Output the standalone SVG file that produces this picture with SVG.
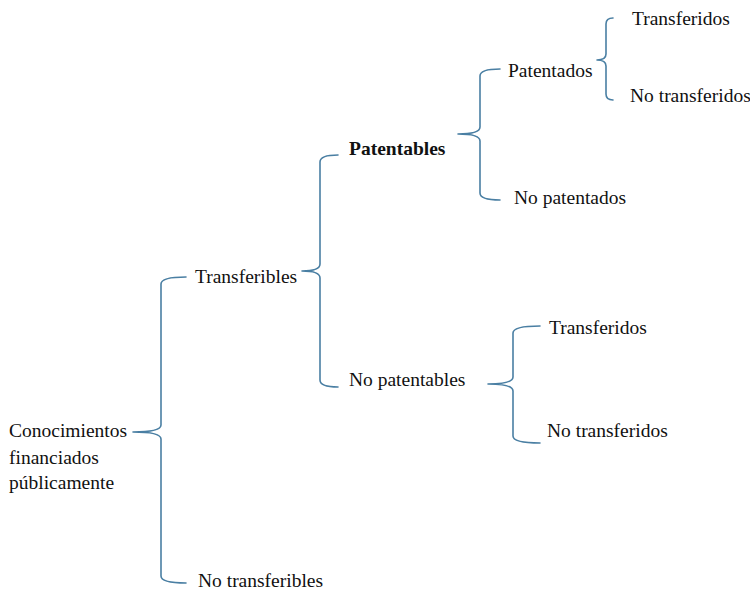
<svg xmlns="http://www.w3.org/2000/svg" width="750" height="592" viewBox="0 0 750 592">
<style>
.t{font-family:"Liberation Serif","Times New Roman",serif;font-size:19.5px;fill:#111}
.b{font-weight:bold}
.br{fill:none;stroke:#4a7fa3;stroke-width:1.6;stroke-linecap:round;stroke-linejoin:round}
</style>
<rect width="750" height="592" fill="#fff"/>
<g id="connectors">
<path class="br" d="M186,277 Q161,277 161,284 L161,425 Q161,432 133,432 Q161,432 161,439 L161,576 Q161,583 186,583"/>
<path class="br" d="M338,155 Q320,155 320,162 L320,264 Q320,271 302,271 Q320,271 320,278 L320,380 Q320,387 338,387"/>
<path class="br" d="M500,69 Q480,69 480,76 L480,127 Q480,134 458,134 Q480,134 480,141 L480,193 Q480,200 500,200"/>
<path class="br" d="M613,18 Q606,18 606,24 L606,54 Q606,60 597,60 Q606,60 606,66 L606,94 Q606,100 613,100"/>
<path class="br" d="M540,326 Q513,326 513,333 L513,377 Q513,384 488,384 Q513,384 513,391 L513,436 Q513,443 540,443"/>
</g>
<g id="root"><text class="t" x="9" y="437">Conocimientos</text><text class="t" x="9" y="464">financiados</text><text class="t" x="9" y="489">públicamente</text></g>
<g id="transferibles"><text class="t" x="195" y="283">Transferibles</text></g>
<g id="no-transferibles"><text class="t" x="198" y="587">No transferibles</text></g>
<g id="patentables"><text class="t b" x="349" y="155">Patentables</text></g>
<g id="no-patentables"><text class="t" x="349" y="386">No patentables</text></g>
<g id="patentados"><text class="t" x="508" y="77">Patentados</text></g>
<g id="no-patentados"><text class="t" x="514" y="204">No patentados</text></g>
<g id="transferidos-1"><text class="t" x="632" y="25">Transferidos</text></g>
<g id="no-transferidos-1"><text class="t" x="630" y="102">No transferidos</text></g>
<g id="transferidos-2"><text class="t" x="549" y="334">Transferidos</text></g>
<g id="no-transferidos-2"><text class="t" x="547" y="437">No transferidos</text></g>
</svg>
